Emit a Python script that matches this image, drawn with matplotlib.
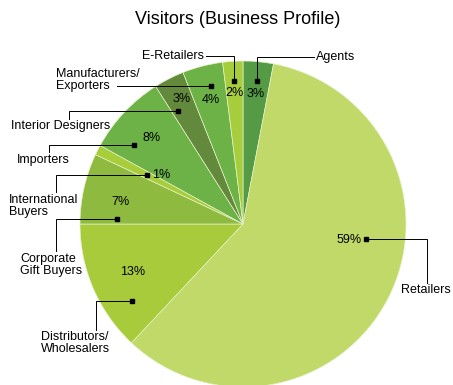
import numpy as np
import matplotlib
matplotlib.use("Agg")
import matplotlib.pyplot as plt

plt.rcParams["font.family"] = ["Liberation Sans", "DejaVu Sans"]

# Visitor share by business profile, clockwise from 12 o'clock
categories = [
    "Agents", "Retailers", "Distributors/\nWholesalers", "Corporate\nGift Buyers",
    "International\nBuyers", "Importers", "Interior Designers",
    "Manufacturers/\nExporters", "E-Retailers",
]
shares = [3, 59, 13, 7, 1, 8, 3, 4, 2]
colors = [
    "#559a45", "#c1d968", "#a7cb3b", "#8fba40", "#a8cd3b",
    "#6cb246", "#638a3c", "#6cb246", "#a6cd3c",
]

W, H = 453, 385
CX, CY, R = 243, 224, 163

fig = plt.figure(figsize=(W / 100, H / 100), dpi=100)
ax = fig.add_axes([0, 0, 1, 1])

# y axis runs downwards, so a counterclockwise pie from -90 reads clockwise from the top
ax.pie(shares, colors=colors, center=(CX, CY), radius=R, startangle=-90,
       counterclock=True,
       wedgeprops=dict(edgecolor="#e6f0c8", linewidth=0.5))
ax.set_xlim(0, W)
ax.set_ylim(H, 0)
ax.set_aspect("auto")
ax.axis("off")


def polar(theta, r):
    # theta in degrees, clockwise from 12 o'clock
    t = np.radians(theta)
    return CX + r * np.sin(t), CY - r * np.cos(t)


# per slice: percent text (theta, r), dot (theta, r), leader elbows, label anchor
layout = [
    dict(txt=(5.4, 131), dot=(5.4, 144), path=lambda x, y: [(x, 57), (314, 57)],
         lab=(316, 57), ha="left", va="center"),
    dict(txt=(98.5, 107), dot=(97, 124), path=lambda x, y: [(427, y), (427, 283)],
         lab=(401, 290), ha="left", va="center"),
    dict(txt=(-113.4, 120), dot=(-125, 135), path=lambda x, y: [(96, y), (96, 330)],
         lab=(41, 331), ha="left", va="top"),
    dict(txt=(-80, 124), dot=(-87.5, 126), path=lambda x, y: [(56, y), (56, 251)],
         lab=(20, 253), ha="left", va="top"),
    dict(txt=(-59, 96), dot=(-63, 108), path=lambda x, y: [(56, y), (56, 192)],
         lab=(9, 194), ha="left", va="top"),
    dict(txt=(-46.8, 125), dot=(-54, 135), path=lambda x, y: [(49, y), (49, 152)],
         lab=(17, 160), ha="left", va="center"),
    dict(txt=(-26, 139), dot=(-30, 130), path=lambda x, y: [(69, y), (69, 119)],
         lab=(11, 126), ha="left", va="center"),
    dict(txt=(-14.4, 128), dot=(-13, 142), path=lambda x, y: [(117, y)],
         lab=(56, 68), ha="left", va="top"),
    dict(txt=(-3.6, 131), dot=(-3.6, 143), path=lambda x, y: [(x, 56), (206, 56)],
         lab=(204, 56), ha="right", va="center"),
]

for name, value, spec in zip(categories, shares, layout):
    dx, dy = polar(*spec["dot"])
    pts = [(dx, dy)] + spec["path"](dx, dy)
    ax.plot([p[0] for p in pts], [p[1] for p in pts], color="black", lw=0.7,
            solid_joinstyle="miter")
    ax.plot(dx, dy, "s", color="black", markersize=2.2)
    tx, ty = polar(*spec["txt"])
    ax.text(tx, ty, f"{value}%", ha="center", va="center", fontsize=9)
    ax.text(*spec["lab"], name, ha=spec["ha"], va=spec["va"], fontsize=9,
            linespacing=0.95)

ax.text(238, 20, "Visitors (Business Profile)", ha="center", va="center",
        fontsize=13)

fig.savefig("out.png", dpi=100)
